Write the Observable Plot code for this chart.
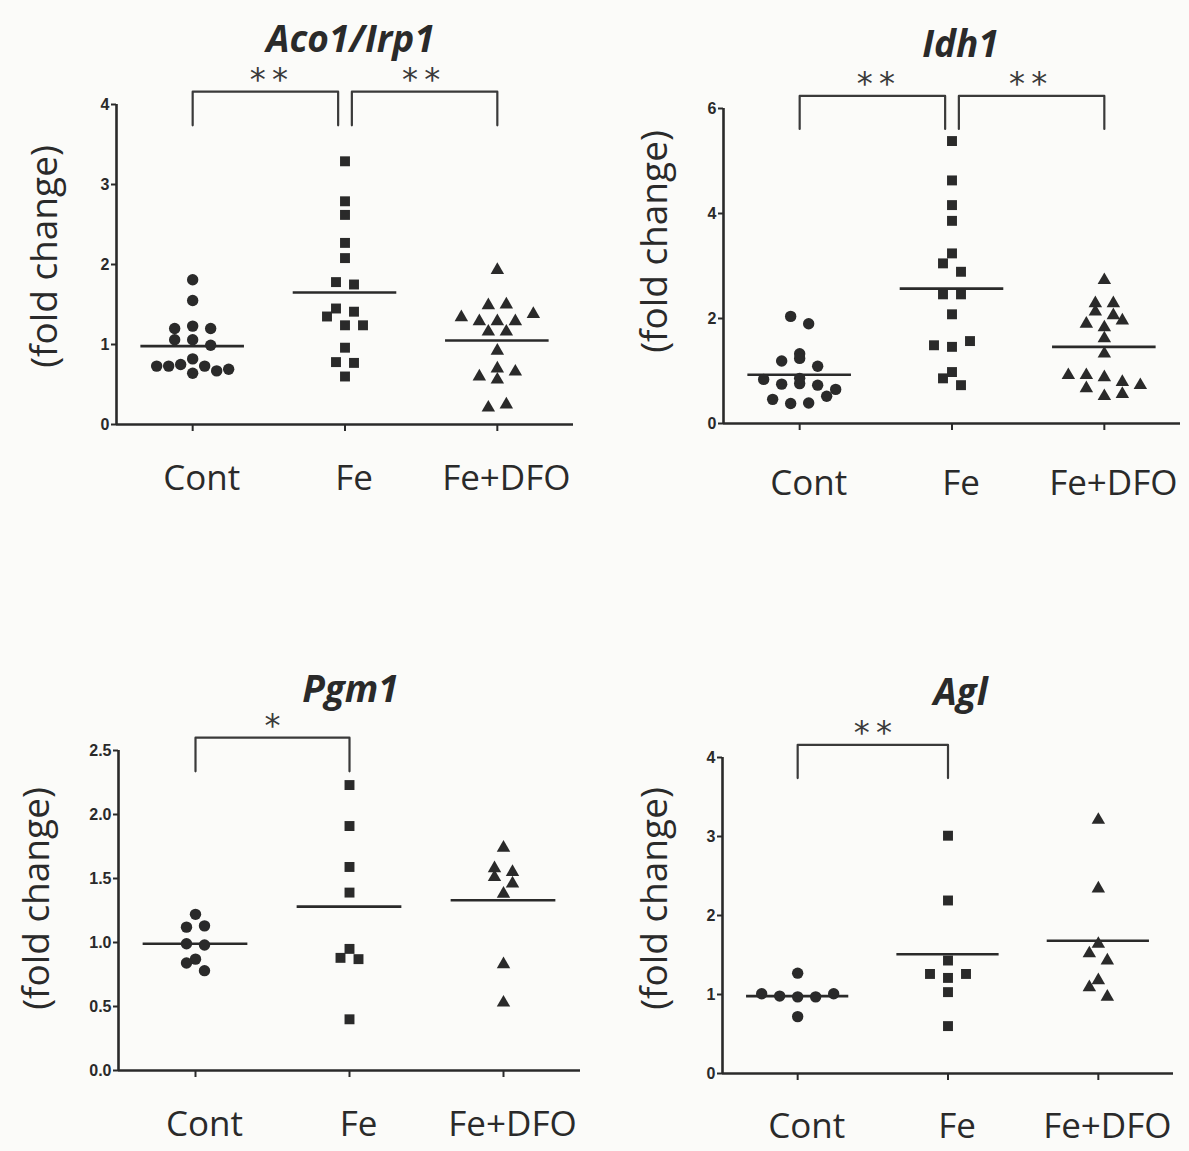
<!DOCTYPE html>
<html><head><meta charset="utf-8">
<script src="https://cdn.jsdelivr.net/npm/d3@7"></script>
<script src="https://cdn.jsdelivr.net/npm/@observablehq/plot@0.6"></script>
<style>
html,body{margin:0;padding:0;background:#fbfbf9;}
#root{position:relative;width:1189px;height:1151px;overflow:hidden;background:#fbfbf9;}
.panel{position:absolute;}
.panel svg{overflow:visible;}
</style></head><body><div id="root"></div>
<script>
// ---- data ----
const groups = ["Cont", "Fe", "Fe+DFO"];
const symbols = ["circle", "square", "triangle"];

const aco1Cont = [1.81, 1.55, 1.20, 1.23, 1.20, 1.06, 1.06, 0.99, 0.73, 0.73, 0.75, 0.64, 0.73, 0.67, 0.82, 0.69];
const aco1Fe   = [3.29, 2.79, 2.62, 2.27, 2.08, 1.78, 1.75, 1.45, 1.35, 1.41, 1.24, 1.24, 0.96, 0.78, 0.77, 0.60];
const aco1Dfo  = [1.93, 1.49, 1.50, 1.34, 1.29, 1.29, 1.29, 1.38, 1.16, 1.16, 0.92, 0.70, 0.60, 0.56, 0.66, 0.21, 0.25];
const aco1Means = [0.98, 1.65, 1.05];
const aco1Ticks = [0, 1, 2, 3, 4];
const aco1Comps = [{a: 0, b: 1, label: "**"}, {a: 1, b: 2, label: "**"}];

const idh1Cont = [2.04, 1.90, 1.33, 1.19, 1.24, 1.09, 0.84, 0.75, 0.76, 0.73, 0.86, 0.65, 0.46, 0.38, 0.39, 0.52];
const idh1Fe   = [5.38, 4.63, 4.16, 3.86, 3.24, 3.05, 2.89, 2.46, 2.46, 2.08, 1.49, 1.46, 1.57, 0.98, 0.86, 0.73];
const idh1Dfo  = [2.73, 2.29, 2.29, 2.13, 2.06, 1.90, 1.83, 1.96, 1.62, 1.33, 0.92, 0.92, 0.88, 0.79, 0.67, 0.52, 0.56, 0.73];
const idh1Means = [0.93, 2.57, 1.46];
const idh1Ticks = [0, 2, 4, 6];
const idh1Comps = [{a: 0, b: 1, label: "**"}, {a: 1, b: 2, label: "**"}];

const pgm1Cont = [1.22, 1.12, 1.13, 0.99, 0.98, 0.87, 0.84, 0.78];
const pgm1Fe   = [2.23, 1.91, 1.59, 1.39, 0.88, 0.87, 0.95, 0.40];
const pgm1Dfo  = [1.74, 1.58, 1.51, 1.55, 1.46, 1.38, 0.83, 0.53];
const pgm1Means = [0.99, 1.28, 1.33];
const pgm1Ticks = [0, 0.5, 1.0, 1.5, 2.0, 2.5];
const pgm1Comps = [{a: 0, b: 1, label: "*"}];

const aglCont = [1.27, 1.01, 0.98, 0.97, 0.97, 1.01, 0.72];
const aglFe   = [3.01, 2.19, 1.43, 1.26, 1.21, 1.26, 1.03, 0.60];
const aglDfo  = [3.21, 2.34, 1.64, 1.52, 1.43, 1.18, 1.09, 0.97];
const aglMeans = [0.98, 1.51, 1.68];
const aglTicks = [0, 1, 2, 3, 4];
const aglComps = [{a: 0, b: 1, label: "**"}];

const yLabel = "(fold change)";

// ---- layout / style ----
const panels = [
  {title: "Aco1/Irp1", series: [aco1Cont, aco1Fe, aco1Dfo], means: aco1Means, ticks: aco1Ticks, fmt: d3.format("d"), comps: aco1Comps,
   left: 0, top: 0, width: 594, height: 560, ml: 116, mr: 21, mt: 104, mb: 136, titleX: 350, titleY: 40, ylabX: 45, ylabY: 256, xlabY: 478},
  {title: "Idh1", series: [idh1Cont, idh1Fe, idh1Dfo], means: idh1Means, ticks: idh1Ticks, fmt: d3.format("d"), comps: idh1Comps,
   left: 594, top: 0, width: 595, height: 560, ml: 129, mr: 9, mt: 108, mb: 137, titleX: 366, titleY: 45, ylabX: 61, ylabY: 241, xlabY: 483},
  {title: "Pgm1", series: [pgm1Cont, pgm1Fe, pgm1Dfo], means: pgm1Means, ticks: pgm1Ticks, fmt: d3.format(".1f"), comps: pgm1Comps,
   left: 0, top: 560, width: 594, height: 591, ml: 118, mr: 14, mt: 190, mb: 81, titleX: 350, titleY: 130, ylabX: 37, ylabY: 338, xlabY: 564},
  {title: "Agl", series: [aglCont, aglFe, aglDfo], means: aglMeans, ticks: aglTicks, fmt: d3.format("d"), comps: aglComps,
   left: 594, top: 560, width: 595, height: 591, ml: 128, mr: 16, mt: 197, mb: 78, titleX: 366, titleY: 133, ylabX: 61, ylabY: 338, xlabY: 566}
];

const INK = "#2a2a2a";
const ROW_PX = 10, MAX_SP = 18, MAX_W = 72;
const radius = {circle: 5.7, square: 5.6, triangle: 5.0};

function swarm(values, pxY, pxX) {
  const idx = values.map((v, i) => i).sort((a, b) => values[a] - values[b]);
  const rows = []; let cur = [];
  for (const i of idx) {
    if (cur.length && (values[i] - values[cur[0]]) * pxY >= ROW_PX) { rows.push(cur); cur = []; }
    cur.push(i);
  }
  if (cur.length) rows.push(cur);
  const off = new Array(values.length).fill(0);
  for (const row of rows) {
    row.sort((a, b) => a - b);
    const n = row.length;
    const sp = n > 1 ? Math.min(MAX_SP, MAX_W / (n - 1)) : 0;
    row.forEach((i, k) => off[i] = (k - (n - 1) / 2) * sp / pxX);
  }
  return off;
}

const root = document.getElementById("root");
for (const p of panels) {
  const ymax = p.ticks[p.ticks.length - 1];
  const fw = p.width - p.ml - p.mr, fh = p.height - p.mt - p.mb;
  const pxX = fw / 3, pxY = fh / ymax;
  const pts = [];
  p.series.forEach((vals, g) => {
    const off = swarm(vals, pxY, pxX);
    vals.forEach((v, i) => pts.push({g, v, x: g + off[i], sym: symbols[g]}));
  });
  const used = {};
  p.comps.forEach(c => { used[c.a] = (used[c.a] || 0) + 1; used[c.b] = (used[c.b] || 0) + 1; });
  const top = ymax * 1.04, bot = ymax * 0.935;
  const br = [];
  p.comps.forEach((c, k) => {
    const xa = c.a + (used[c.a] > 1 ? 0.045 : 0);
    const xb = c.b - (used[c.b] > 1 ? 0.045 : 0);
    br.push({k, x: xa, y: bot}, {k, x: xa, y: top}, {k, x: xb, y: top}, {k, x: xb, y: bot});
  });
  const marks = [
    Plot.ruleX([-0.5], {y1: 0, y2: ymax, stroke: INK, strokeWidth: 2.6}),
    Plot.ruleY([0], {stroke: INK, strokeWidth: 2.6}),
    Plot.axisY({ticks: p.ticks, tickFormat: p.fmt, tickSize: 5, tickPadding: 2, label: null,
      fontSize: 16, fontWeight: "bold", fontFamily: "Liberation Sans", stroke: INK, strokeWidth: 2}),
    Plot.axisX({ticks: [0, 1, 2], tickFormat: () => "", tickSize: 7, label: null, stroke: INK, strokeWidth: 2}),
    Plot.text(groups, {x: (d, i) => i, frameAnchor: "bottom", lineAnchor: "middle", dy: p.xlabY - (p.height - p.mb), dx: 9,
      text: d => d, fontSize: 35, fontFamily: "Open Sans", fill: INK}),
    Plot.ruleY(p.means, {y: d => d, x1: (d, i) => i - 0.34, x2: (d, i) => i + 0.34, stroke: INK, strokeWidth: 2.6}),
    ...symbols.map(s => Plot.dot(pts.filter(d => d.sym === s), {x: "x", y: "v", symbol: s, r: radius[s], fill: INK, stroke: "none"})),
    Plot.line(br, {x: "x", y: "y", z: "k", stroke: "#3a3a3a", strokeWidth: 2.2}),
    Plot.text(p.comps, {x: d => (d.a + d.b) / 2, y: top, dy: -12, lineAnchor: "middle",
      text: d => d.label.split("").join("\u2009"), fontSize: 32, fontFamily: "DejaVu Sans", fill: "#3a3a3a"}),
    Plot.text([p.title], {frameAnchor: "top", lineAnchor: "middle", dx: p.titleX - (p.ml + fw / 2), dy: p.titleY - p.mt, text: d => d,
      fontSize: 37, fontWeight: "bold", fontStyle: "italic", fontFamily: "Open Sans", fill: INK}),
    Plot.text([yLabel], {frameAnchor: "left", textAnchor: "middle", lineAnchor: "middle", rotate: -90,
      dx: p.ylabX - p.ml, dy: p.ylabY - (p.mt + fh / 2), text: d => d,
      fontSize: 37, fontFamily: "Open Sans", fill: INK})
  ];
  const chart = Plot.plot({
    width: p.width, height: p.height,
    marginLeft: p.ml, marginRight: p.mr, marginTop: p.mt, marginBottom: p.mb,
    x: {domain: [-0.5, 2.5]},
    y: {domain: [0, ymax]},
    style: {background: "transparent", color: INK, fontFamily: "Open Sans", overflow: "visible"},
    marks
  });
  const div = document.createElement("div");
  div.className = "panel";
  div.style.left = p.left + "px"; div.style.top = p.top + "px";
  div.appendChild(chart);
  root.appendChild(div);
}
</script></body></html>
